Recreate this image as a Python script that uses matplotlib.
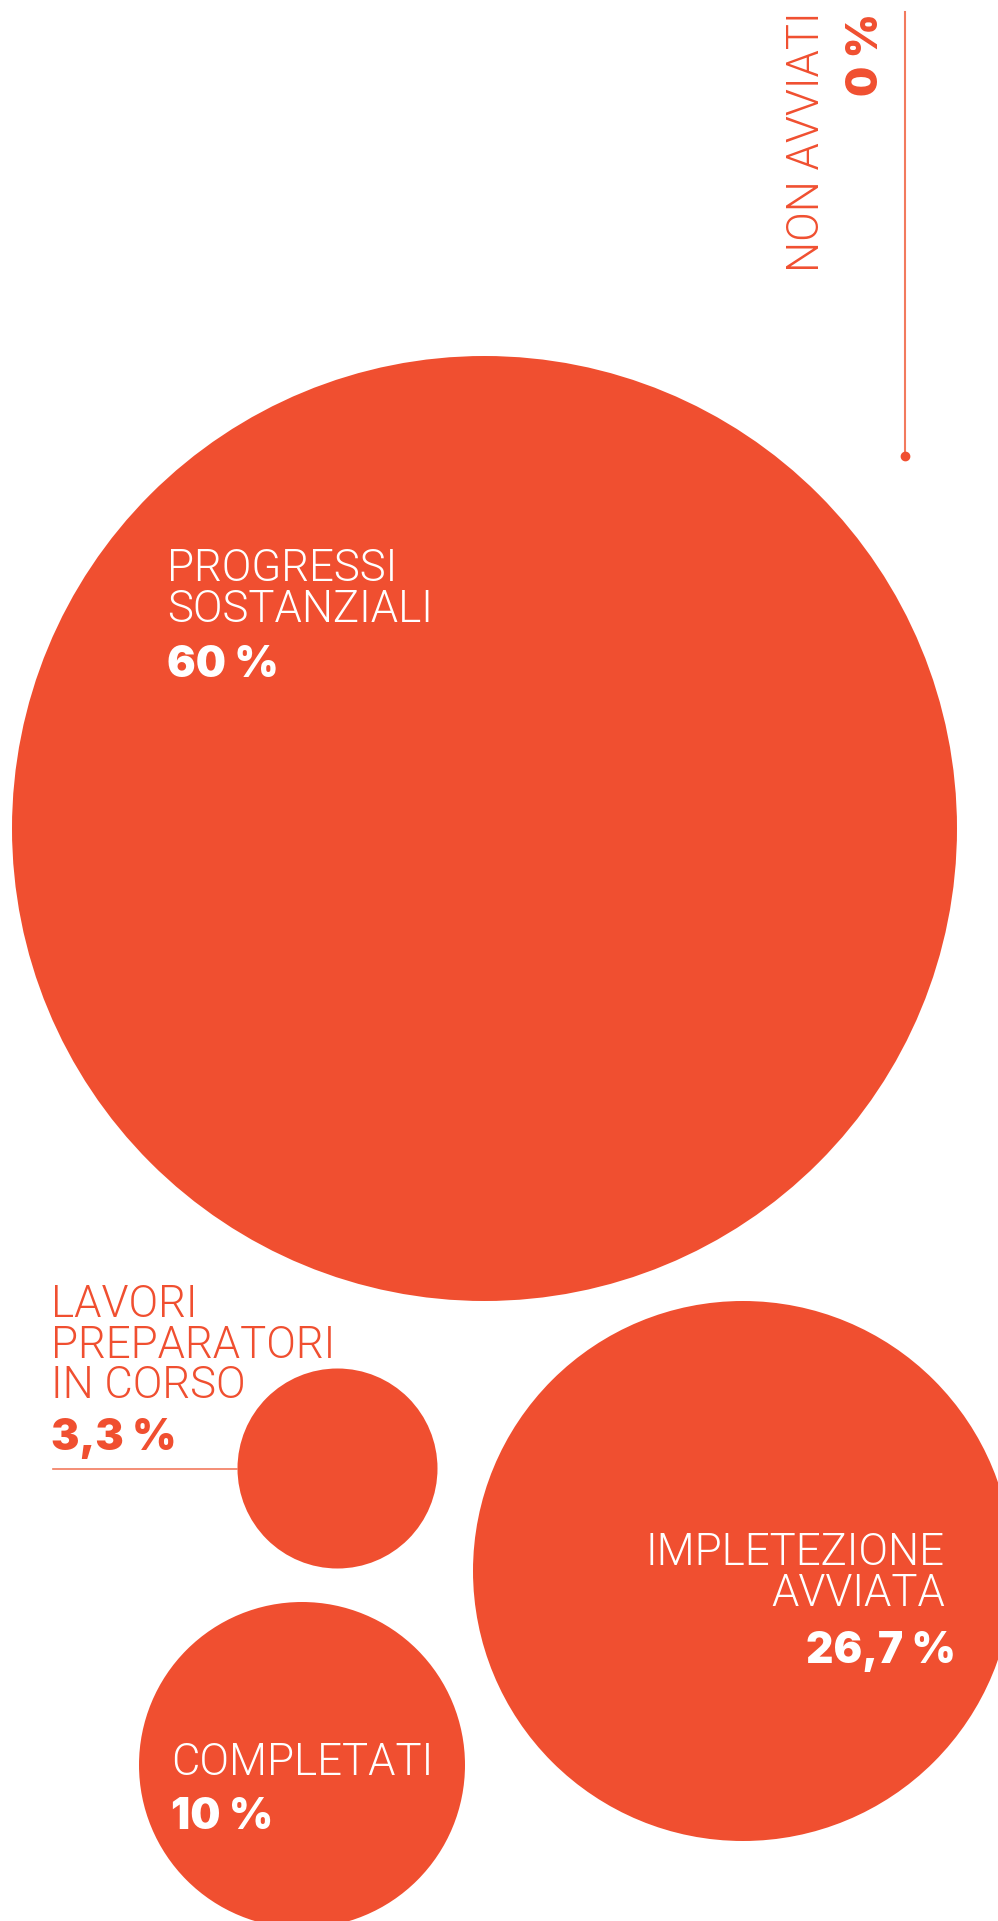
import matplotlib
matplotlib.use('Agg')
import matplotlib.pyplot as plt
from matplotlib.patches import Circle

# Data
categories = ['PROGRESSI\nSOSTANZIALI', 'IMPLETEZIONE\nAVVIATA', 'COMPLETATI',
              'LAVORI\nPREPARATORI\nIN CORSO', 'NON AVVIATI']
values = [60, 26.7, 10, 3.3, 0]

# Layout (pixels, y downwards)
centers = [(484.5, 828.5), (743, 1571), (302, 1765), (337.5, 1468.5)]
radii = [472.5, 270, 163, 100]

RED = '#F04F30'
LINE_RED = '#F27A5E'
LIGHT = dict(family=['Roboto', 'DejaVu Sans'], weight=300)
BOLD = dict(family=['Inter', 'DejaVu Sans'], weight=900)


def fmt(v):
    s = ('%g' % v).replace('.', ',')
    return s + ' %'


fig = plt.figure(figsize=(9.98, 19.21), dpi=100)
ax = fig.add_axes([0, 0, 1, 1])
ax.set_xlim(0, 998)
ax.set_ylim(1921, 0)
ax.set_aspect('equal')
ax.axis('off')

for (cx, cy), r in zip(centers, radii):
    ax.add_patch(Circle((cx, cy), r, color=RED, lw=0))

# Labels: (x, first baseline, ha, color)
label_pos = [(167, 581, 'left', 'white'),
             (945, 1565, 'right', 'white'),
             (171, 1775, 'left', 'white'),
             (51, 1317, 'left', RED)]
num_pos = [(167, 677), (956, 1663), (171, 1829), (51, 1450)]
line_gap = 40.5

for i in range(4):
    x, y0, ha, col = label_pos[i]
    for j, line in enumerate(categories[i].split('\n')):
        ax.text(x, y0 + j * line_gap, line, ha=ha, va='baseline', color=col,
                fontsize=31.5, **LIGHT)
    nx, ny = num_pos[i]
    ax.text(nx, ny, fmt(values[i]), ha=ha, va='baseline', color=col,
            fontsize=30.5, **BOLD)

# leader line for the small circle
ax.plot([53, centers[3][0] - radii[3]], [1469, 1469], color=LINE_RED, lw=1.2)

# NON AVVIATI (rotated, top right)
ax.text(819, 11, categories[4], rotation=90, rotation_mode='anchor',
        ha='right', va='baseline', color=RED, fontsize=31.5, **LIGHT)
ax.text(878, 13, fmt(values[4]), rotation=90, rotation_mode='anchor',
        ha='right', va='baseline', color=RED, fontsize=30.5, **BOLD)
ax.plot([905, 905], [12, 456], color=LINE_RED, lw=1.5)
ax.plot([905], [456], 'o', color=RED, ms=6)

fig.savefig('out.png', dpi=100)
